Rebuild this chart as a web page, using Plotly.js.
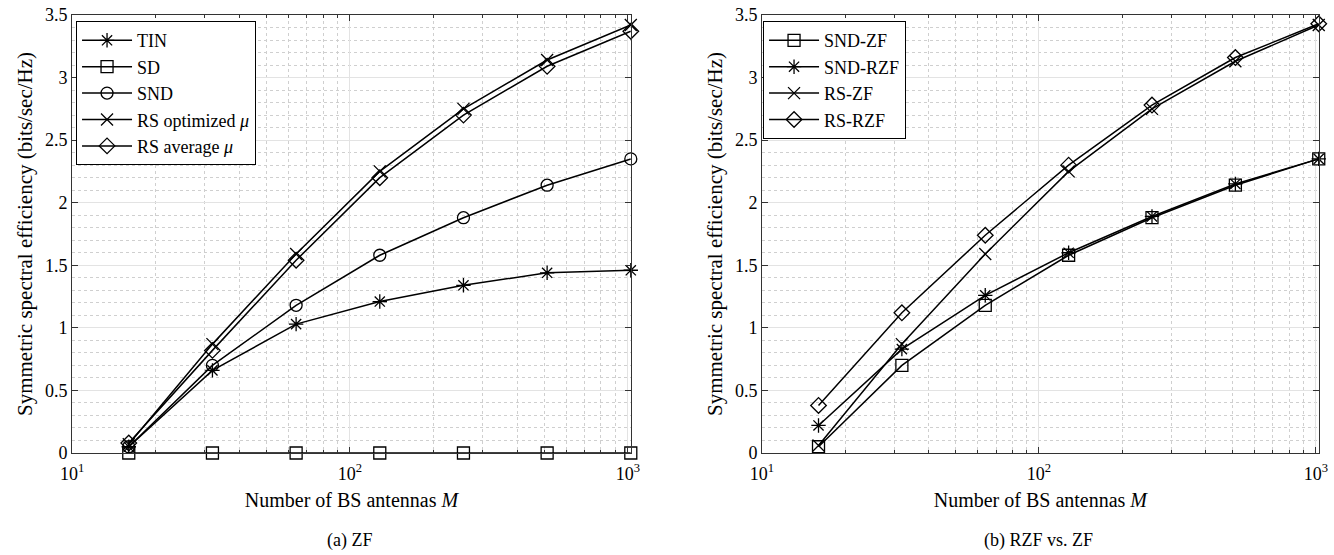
<!DOCTYPE html>
<html><head><meta charset="utf-8">
<script src="https://cdn.plot.ly/plotly-3.0.1.min.js"></script>
<style>body{margin:0;background:#fff}#c{width:1334px;height:555px}</style>
</head><body><div id="c"></div>
<script>
const antennas = [16, 32, 64, 128, 256, 512, 1024];
// (a) ZF
const tin    = [0.05, 0.66, 1.03, 1.21, 1.34, 1.44, 1.46];
const sd     = [0, 0, 0, 0, 0, 0, 0];
const snd    = [0.05, 0.70, 1.18, 1.58, 1.88, 2.14, 2.35];
const rsOpt  = [0.07, 0.87, 1.59, 2.25, 2.75, 3.14, 3.42];
const rsAvg  = [0.08, 0.82, 1.54, 2.20, 2.70, 3.09, 3.37];
// (b) RZF vs. ZF
const sndZF  = [0.05, 0.70, 1.18, 1.58, 1.88, 2.14, 2.35];
const sndRZF = [0.22, 0.83, 1.26, 1.60, 1.89, 2.15, 2.35];
const rsZF   = [0.06, 0.87, 1.59, 2.25, 2.75, 3.13, 3.42];
const rsRZF  = [0.38, 1.12, 1.74, 2.30, 2.78, 3.16, 3.43];

const xTickVals = [10, 100, 1000];
const xTickText = ['10<sup>1</sup>', '10<sup>2</sup>', '10<sup>3</sup>'];
const xMinorVals = [20,30,40,50,60,70,80,90,200,300,400,500,600,700,800,900];

const FONT = '"Liberation Serif", "DejaVu Serif", serif';

function tr(y, name, sym, xa, ya, leg){
  return {x: antennas, y: y, name: name, type: 'scatter', mode: 'lines+markers',
    xaxis: xa, yaxis: ya, legend: leg, cliponaxis: false,
    line: {color: '#000', width: 1.5},
    marker: {symbol: sym, size: 12, color: '#000', line: {color: '#000', width: 1.3}}};
}

const data = [
  tr(tin, 'TIN', 'asterisk-open', 'x', 'y', 'legend'),
  tr(sd, 'SD', 'square-open', 'x', 'y', 'legend'),
  tr(snd, 'SND', 'circle-open', 'x', 'y', 'legend'),
  tr(rsOpt, 'RS optimized <i>μ</i>', 'x-thin-open', 'x', 'y', 'legend'),
  tr(rsAvg, 'RS average <i>μ</i>', 'diamond-open', 'x', 'y', 'legend'),
  tr(sndZF, 'SND-ZF', 'square-open', 'x2', 'y2', 'legend2'),
  tr(sndRZF, 'SND-RZF', 'asterisk-open', 'x2', 'y2', 'legend2'),
  tr(rsZF, 'RS-ZF', 'x-thin-open', 'x2', 'y2', 'legend2'),
  tr(rsRZF, 'RS-RZF', 'diamond-open', 'x2', 'y2', 'legend2')
];

function xax(dom){
  return {domain: dom, type: 'log', range: [1, 3.0105], tickmode: 'array', tickvals: xTickVals, ticktext: xTickText,
    ticks: 'inside', ticklen: 6, tickcolor: '#333', showline: true, linecolor: '#333', linewidth: 1, mirror: 'ticks',
    showgrid: true, gridcolor: '#e3e3e3', gridwidth: 1, zeroline: false, ticklabelstandoff: 4,
    tickfont: {family: FONT, size: 18, color: '#000'},
    minor: {tickmode: 'array', tickvals: xMinorVals, ticks: 'inside', ticklen: 3, tickcolor: '#333',
      showgrid: true, griddash: 'dot', gridcolor: '#cfcfcf', gridwidth: 1},
    title: {text: 'Number of BS antennas <i>M</i>', font: {family: FONT, size: 20, color: '#000'}, standoff: 10}};
}
function yax(anchor){
  return {domain: [0.1838, 0.973], anchor: anchor, range: [0, 3.5], dtick: 0.5,
    ticks: 'inside', ticklen: 6, tickcolor: '#333', showline: true, linecolor: '#333', linewidth: 1, mirror: 'ticks',
    showgrid: true, gridcolor: '#e3e3e3', gridwidth: 1, zeroline: false,
    tickfont: {family: FONT, size: 18, color: '#000'},
    minor: {dtick: 0.1, ticks: '', showgrid: true, griddash: 'dot', gridcolor: '#cfcfcf', gridwidth: 1},
    title: {text: 'Symmetric spectral efficiency (bits/sec/Hz)', font: {family: FONT, size: 21, color: '#000'}, standoff: 6}};
}

const xa1 = xax([0.054, 0.4729]); xa1.anchor = 'y';
const xa2 = xax([0.5712, 0.9886]); xa2.anchor = 'y2';

const layout = {
  width: 1334, height: 555, margin: {l: 0, r: 0, t: 0, b: 0},
  paper_bgcolor: '#fff', plot_bgcolor: '#fff', showlegend: true,
  font: {family: FONT, color: '#000'},
  xaxis: xa1, yaxis: yax('x'), xaxis2: xa2, yaxis2: yax('x2'),
  legend: {x: 0.057, y: 0.962, xanchor: 'left', yanchor: 'top', bgcolor: '#fff', bordercolor: '#000', borderwidth: 1,
    font: {family: FONT, size: 18, color: '#000'}, tracegroupgap: 0, itemwidth: 50},
  legend2: {x: 0.572, y: 0.962, xanchor: 'left', yanchor: 'top', bgcolor: '#fff', bordercolor: '#000', borderwidth: 1,
    font: {family: FONT, size: 18, color: '#000'}, tracegroupgap: 0, itemwidth: 50},
  annotations: [
    {text: '(a) ZF', xref: 'paper', yref: 'paper', x: 350/1334, y: 1 - 540/555, xanchor: 'center', yanchor: 'middle', showarrow: false, font: {family: FONT, size: 18, color: '#000'}},
    {text: '(b) RZF vs. ZF', xref: 'paper', yref: 'paper', x: 1038/1334, y: 1 - 540/555, xanchor: 'center', yanchor: 'middle', showarrow: false, font: {family: FONT, size: 18, color: '#000'}}
  ]
};

Plotly.newPlot('c', data, layout, {staticPlot: true});
</script></body></html>
